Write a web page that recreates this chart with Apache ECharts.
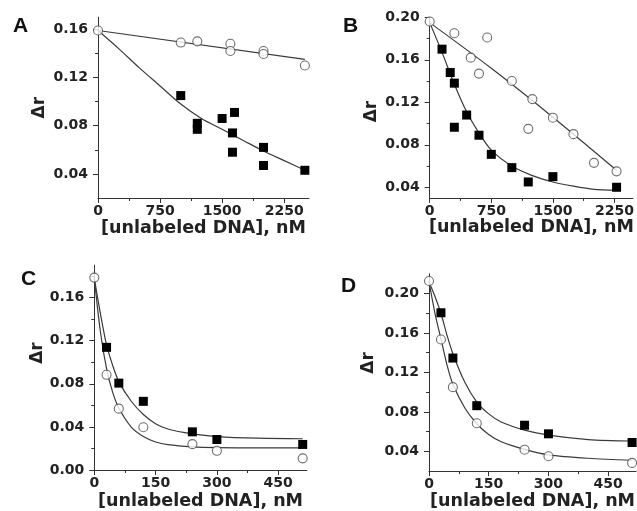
<!DOCTYPE html>
<html><head><meta charset="utf-8">
<script src="https://cdn.jsdelivr.net/npm/echarts@6/dist/echarts.min.js"></script>
<style>html,body{margin:0;padding:0;background:#fff}#c{width:637px;height:511px}</style>
</head><body><div id="c"></div>
<script>
// ---------- Panel A ----------
const aOpenX = [0, 1000, 1200, 1600, 1600, 2000, 2000, 2500];
const aOpenY = [0.159, 0.149, 0.150, 0.148, 0.142, 0.142, 0.1395, 0.130];
const aFillX = [1000, 1200, 1200, 1500, 1650, 1625, 1625, 2000, 2000, 2500];
const aFillY = [0.105, 0.082, 0.077, 0.086, 0.091, 0.074, 0.058, 0.062, 0.047, 0.043];
const aOpenFitX = [0, 2500];
const aOpenFitY = [0.159, 0.135];
const aFillFitX = [0, 250, 500, 750, 1000, 1250, 1500, 1750, 2000, 2250, 2500];
const aFillFitY = [0.159, 0.144, 0.128, 0.113, 0.098, 0.086, 0.077, 0.068, 0.059, 0.051, 0.043];
const aXTicks = [0, 750, 1500, 2250];
const aXMinor = [375, 1125, 1875];
const aYTicks = [0.04, 0.08, 0.12, 0.16];
const aYMinor = [0.06, 0.10, 0.14];

// ---------- Panel B ----------
const bOpenX = [0, 300, 700, 500, 600, 1000, 1250, 1200, 1500, 1750, 2000, 2275];
const bOpenY = [0.196, 0.185, 0.181, 0.162, 0.147, 0.140, 0.123, 0.095, 0.1055, 0.090, 0.063, 0.055];
const bFillX = [150, 250, 300, 300, 450, 600, 750, 1000, 1200, 1500, 2275];
const bFillY = [0.170, 0.148, 0.138, 0.0965, 0.108, 0.089, 0.071, 0.0585, 0.045, 0.050, 0.040];
const bOpenFitX = [0, 750, 1500, 2275];
const bOpenFitY = [0.195, 0.152, 0.106, 0.056];
const bFillFitX = [0, 150, 300, 450, 600, 750, 1000, 1250, 1500, 1750, 2000, 2275];
const bFillFitY = [0.195, 0.167, 0.137, 0.111, 0.091, 0.075, 0.060, 0.051, 0.045, 0.041, 0.038, 0.037];
const bXTicks = [0, 750, 1500, 2250];
const bXMinor = [375, 1125, 1875];
const bYTicks = [0.04, 0.08, 0.12, 0.16, 0.20];
const bYMinor = [0.06, 0.10, 0.14, 0.18];

// ---------- Panel C ----------
const cOpenX = [0, 30, 60, 120, 240, 300, 510];
const cOpenY = [0.1785, 0.0883, 0.0569, 0.0397, 0.024, 0.0178, 0.0108];
const cFillX = [30, 60, 120, 240, 300, 510];
const cFillY = [0.1138, 0.0806, 0.0637, 0.0354, 0.0283, 0.0237];
const cFillFitX = [0, 15, 30, 45, 60, 90, 120, 150, 180, 240, 300, 400, 510];
const cFillFitY = [0.178, 0.145, 0.116, 0.097, 0.082, 0.064, 0.0515, 0.043, 0.038, 0.0335, 0.031, 0.0295, 0.029];
const cOpenFitX = [0, 15, 30, 45, 60, 90, 120, 150, 180, 240, 300, 400, 510];
const cOpenFitY = [0.178, 0.128, 0.094, 0.072, 0.0575, 0.040, 0.031, 0.026, 0.0235, 0.0215, 0.0208, 0.0205, 0.0205];
const cXTicks = [0, 150, 300, 450];
const cXMinor = [75, 225, 375];
const cYTicks = [0.00, 0.04, 0.08, 0.12, 0.16];
const cYMinor = [0.02, 0.06, 0.10, 0.14, 0.18];

// ---------- Panel D ----------
const dOpenX = [0, 30, 60, 120, 240, 300, 510];
const dOpenY = [0.2127, 0.1534, 0.1051, 0.0685, 0.0417, 0.035, 0.0283];
const dFillX = [30, 60, 120, 240, 300, 510];
const dFillY = [0.1805, 0.1346, 0.0863, 0.0665, 0.0578, 0.049];
const dFillFitX = [0, 15, 30, 45, 60, 90, 120, 150, 180, 240, 300, 400, 510];
const dFillFitY = [0.212, 0.197, 0.180, 0.158, 0.139, 0.110, 0.090, 0.078, 0.070, 0.0615, 0.0565, 0.052, 0.0505];
const dOpenFitX = [0, 15, 30, 45, 60, 90, 120, 150, 180, 240, 300, 400, 510];
const dOpenFitY = [0.212, 0.180, 0.154, 0.128, 0.108, 0.084, 0.068, 0.057, 0.050, 0.042, 0.0365, 0.033, 0.031];
const dXTicks = [0, 150, 300, 450];
const dXMinor = [75, 225, 375];
const dYTicks = [0.04, 0.08, 0.12, 0.16, 0.20];
const dYMinor = [0.06, 0.10, 0.14, 0.18];

const panelLetters = ['A', 'B', 'C', 'D'];
const xName = '[unlabeled DNA], nM';
const yName = 'Δr';

const FONT = '"DejaVu Sans", sans-serif';
const AX = '#333';
const TXT = '#222';

const panels = [
  { letter: panelLetters[0], grid: {left: 98, top: 17.25, width: 211, height: 180.75}, xmin: 0, xmax: 2550, ymin: 0.02, ymax: 0.17,
    xt: aXTicks, xm: aXMinor, yt: aYTicks, ym: aYMinor, xGap: 21, yGap: 50, yPad: [0,0,0,0],
    open: [aOpenX, aOpenY], fill: [aFillX, aFillY], fits: [[aOpenFitX, aOpenFitY], [aFillFitX, aFillFitY]], lpos: [13, 26] },
  { letter: panelLetters[1], grid: {left: 429.7, top: 17.3, width: 207.3, height: 180.6}, xmin: 0, xmax: 2475, ymin: 0.03, ymax: 0.20,
    xt: bXTicks, xm: bXMinor, yt: bYTicks, ym: bYMinor, xGap: 21, yGap: 50, yPad: [0,8,0,0],
    open: [bOpenX, bOpenY], fill: [bFillX, bFillY], fits: [[bOpenFitX, bOpenFitY], [bFillFitX, bFillFitY]], lpos: [343, 26] },
  { letter: panelLetters[2], grid: {left: 94.3, top: 265.2, width: 212.5, height: 205.8}, xmin: 0, xmax: 520, ymin: 0, ymax: 0.19,
    xt: cXTicks, xm: cXMinor, yt: cYTicks, ym: cYMinor, xGap: 22, yGap: 44, yPad: [0,0,0,29],
    open: [cOpenX, cOpenY], fill: [cFillX, cFillY], fits: [[cOpenFitX, cOpenFitY], [cFillFitX, cFillFitY]], lpos: [21, 279.5] },
  { letter: panelLetters[3], grid: {left: 429, top: 273.8, width: 208, height: 198.8}, xmin: 0, xmax: 520, ymin: 0.02, ymax: 0.22,
    xt: dXTicks, xm: dXMinor, yt: dYTicks, ym: dYMinor, xGap: 18.5, yGap: 52, yPad: [0,0,0,19],
    open: [dOpenX, dOpenY], fill: [dFillX, dFillY], fits: [[dOpenFitX, dOpenFitY], [dFillFitX, dFillFitY]], lpos: [341, 286] }
];

const grids = [], xAxes = [], yAxes = [], series = [], graphics = [];
const zip = (xs, ys) => xs.map((x, i) => [x, ys[i]]);

panels.forEach((p, i) => {
  grids.push(Object.assign({containLabel: false}, p.grid));
  xAxes.push({
    gridIndex: i, type: 'value', min: p.xmin, max: p.xmax, position: 'bottom',
    axisLine: {show: true, onZero: false, lineStyle: {color: AX, width: 1}},
    axisTick: {show: true, inside: false, length: 5, customValues: p.xt, lineStyle: {color: AX, width: 1}},
    axisLabel: {customValues: p.xt, margin: 6, fontFamily: FONT, fontWeight: 'bold', fontSize: 14, color: TXT,
      formatter: v => String(Math.round(v))},
    splitLine: {show: false},
    name: xName, nameLocation: 'middle', nameGap: p.xGap,
    nameTextStyle: {fontFamily: FONT, fontWeight: 'bold', fontSize: 17.5, color: TXT}
  });
  xAxes.push({
    gridIndex: i, type: 'value', min: p.xmin, max: p.xmax, position: 'bottom', offset: 0,
    axisLine: {show: false, onZero: false},
    axisTick: {show: true, inside: false, length: 3, customValues: p.xm, lineStyle: {color: AX, width: 1}},
    axisLabel: {show: false}, splitLine: {show: false}
  });
  yAxes.push({
    gridIndex: i, type: 'value', min: p.ymin, max: p.ymax, position: 'left',
    axisLine: {show: true, onZero: false, lineStyle: {color: AX, width: 1}},
    axisTick: {show: true, inside: false, length: 5, customValues: p.yt, lineStyle: {color: AX, width: 1}},
    axisLabel: {customValues: p.yt, margin: 10, fontFamily: FONT, fontWeight: 'bold', fontSize: 14, color: TXT,
      formatter: v => v.toFixed(2)},
    splitLine: {show: false},
    name: yName, nameLocation: 'middle', nameGap: p.yGap, nameRotate: 90,
    nameTextStyle: {fontFamily: FONT, fontWeight: 'bold', fontSize: 17, color: TXT, padding: p.yPad}
  });
  yAxes.push({
    gridIndex: i, type: 'value', min: p.ymin, max: p.ymax, position: 'left', offset: 0,
    axisLine: {show: false, onZero: false},
    axisTick: {show: true, inside: false, length: 3, customValues: p.ym, lineStyle: {color: AX, width: 1}},
    axisLabel: {show: false}, splitLine: {show: false}
  });
  const xi = 2 * i, yi = 2 * i;
  p.fits.forEach(f => {
    series.push({
      type: 'line', xAxisIndex: xi, yAxisIndex: yi, data: zip(f[0], f[1]),
      smooth: 0.3, showSymbol: false, symbol: 'none',
      lineStyle: {color: '#3a3a3a', width: 1.2}, silent: true, z: 2
    });
  });
  series.push({
    type: 'scatter', xAxisIndex: xi, yAxisIndex: yi, data: zip(p.open[0], p.open[1]),
    symbol: 'circle', symbolSize: 9,
    itemStyle: {color: '#fff', borderColor: '#4a4a4a', borderWidth: 1.1}, z: 3
  });
  series.push({
    type: 'scatter', xAxisIndex: xi, yAxisIndex: yi, data: zip(p.fill[0], p.fill[1]),
    symbol: 'rect', symbolSize: 9,
    itemStyle: {color: '#000', opacity: 1}, z: 4
  });
  graphics.push({
    type: 'text', x: p.lpos[0], y: p.lpos[1],
    style: {text: p.letter, font: 'bold 21px "Liberation Sans", Arial, sans-serif', fill: '#111',
      align: 'left', verticalAlign: 'middle'}
  });
});

const chart = echarts.init(document.getElementById('c'), null, {renderer: 'canvas'});
chart.setOption({
  animation: false,
  backgroundColor: '#fff',
  grid: grids, xAxis: xAxes, yAxis: yAxes, series: series, graphic: graphics
});
</script>
</body></html>
